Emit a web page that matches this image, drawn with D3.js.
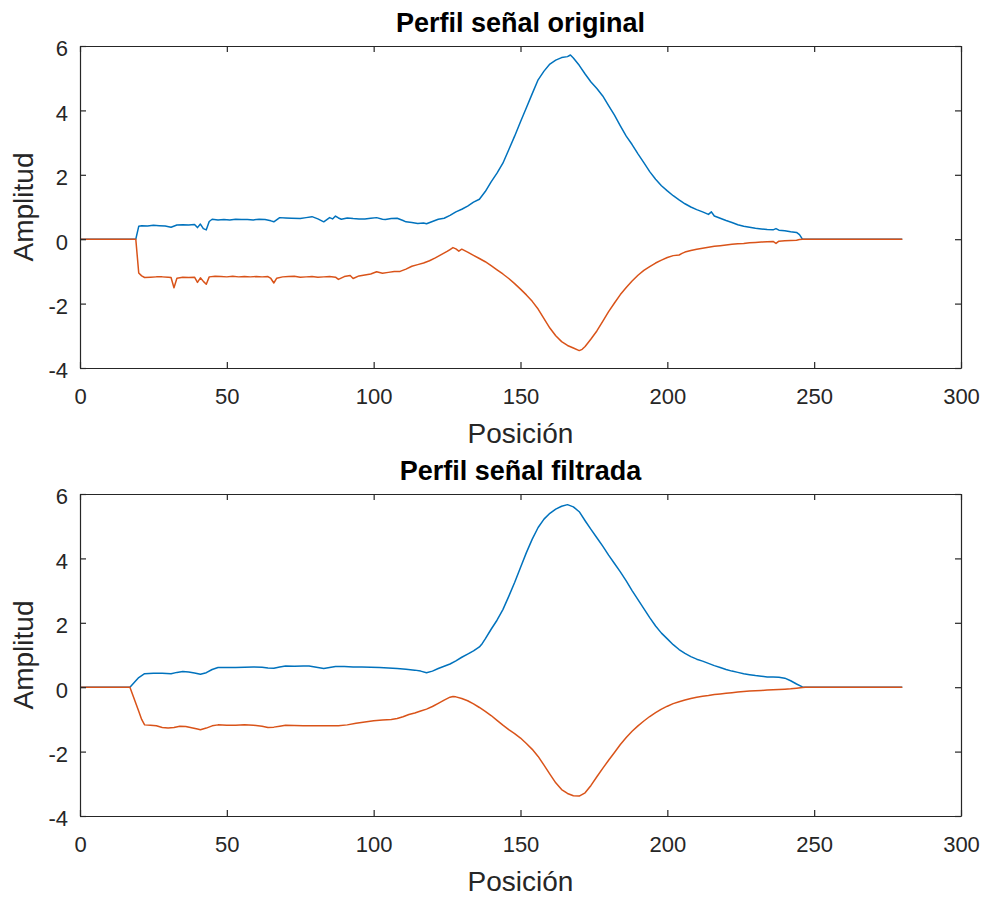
<!DOCTYPE html>
<html>
<head>
<meta charset="utf-8">
<script src="https://cdn.jsdelivr.net/npm/d3@7"></script>
<style>
  html, body { margin: 0; padding: 0; background: #ffffff; }
  svg { display: block; font-family: "Liberation Sans", Arial, Helvetica, sans-serif; }
  .axis path, .axis line { stroke: #262626; }
  .axis text { fill: #262626; }
</style>
</head>
<body>
<svg id="chart" width="983" height="897"></svg>
<script>
// Profile of the original (raw) signal
const originalBlueX = [0, 19, 20, 21, 23, 25, 27, 29, 31, 33, 35, 37, 39, 40, 41, 42, 43, 44, 45, 47, 49, 51, 53, 55, 57, 59, 61, 63, 65, 66, 68, 70, 72, 75, 77, 79, 81, 83, 85, 86, 87, 88, 89, 91, 93, 95, 97, 99, 101, 103, 104, 106, 108, 110, 111, 113, 115, 117, 118, 120, 122, 124, 126, 128, 130, 132, 134, 136, 138, 140, 142, 144, 146, 148, 150, 152, 154, 156, 158, 160, 162, 164, 166, 167, 168, 170, 172, 174, 176, 178, 180, 182, 184, 186, 188, 190, 192, 194, 196, 198, 200, 202, 204, 206, 208, 210, 212, 214, 215, 216, 218, 220, 222, 224, 226, 228, 230, 232, 234, 236, 237, 238, 240, 242, 244, 245, 246, 280];
const originalBlueY = [0, 0, 0.40, 0.42, 0.41, 0.43, 0.42, 0.41, 0.37, 0.44, 0.45, 0.44, 0.46, 0.36, 0.47, 0.33, 0.29, 0.55, 0.62, 0.60, 0.61, 0.60, 0.62, 0.61, 0.61, 0.60, 0.62, 0.61, 0.57, 0.54, 0.67, 0.66, 0.65, 0.64, 0.67, 0.70, 0.63, 0.54, 0.67, 0.63, 0.72, 0.66, 0.62, 0.66, 0.64, 0.63, 0.63, 0.65, 0.67, 0.62, 0.61, 0.64, 0.65, 0.58, 0.54, 0.52, 0.49, 0.50, 0.48, 0.55, 0.62, 0.65, 0.74, 0.85, 0.93, 1.03, 1.15, 1.24, 1.48, 1.78, 2.05, 2.36, 2.78, 3.20, 3.65, 4.08, 4.52, 4.95, 5.22, 5.44, 5.56, 5.64, 5.67, 5.72, 5.63, 5.40, 5.13, 4.88, 4.68, 4.45, 4.15, 3.85, 3.52, 3.20, 2.94, 2.65, 2.38, 2.10, 1.86, 1.66, 1.50, 1.35, 1.22, 1.10, 1.00, 0.92, 0.85, 0.77, 0.85, 0.72, 0.65, 0.58, 0.52, 0.45, 0.40, 0.37, 0.34, 0.32, 0.30, 0.29, 0.33, 0.28, 0.26, 0.23, 0.21, 0.14, 0, 0];

const originalRedX = [0, 19, 20, 21, 22, 24, 26, 28, 30, 31, 32, 33, 35, 37, 39, 40, 41, 42, 43, 44, 46, 48, 50, 52, 54, 56, 58, 60, 62, 64, 65, 66, 67, 69, 71, 73, 75, 77, 79, 81, 83, 85, 87, 88, 90, 92, 93, 95, 97, 99, 101, 103, 105, 107, 109, 111, 113, 115, 117, 119, 121, 123, 125, 126, 127, 128, 129, 130, 132, 134, 136, 138, 140, 142, 144, 146, 148, 150, 152, 154, 156, 158, 160, 162, 164, 166, 168, 170, 171, 172, 174, 176, 178, 180, 182, 184, 186, 188, 190, 192, 194, 196, 198, 200, 202, 204, 205, 206, 208, 210, 212, 214, 216, 218, 220, 222, 224, 226, 228, 230, 232, 234, 236, 237, 238, 240, 242, 244, 245, 246, 280];
const originalRedY = [0, 0, -1.05, -1.14, -1.19, -1.18, -1.17, -1.17, -1.18, -1.19, -1.51, -1.21, -1.18, -1.19, -1.18, -1.34, -1.20, -1.31, -1.40, -1.17, -1.15, -1.16, -1.17, -1.15, -1.17, -1.16, -1.17, -1.16, -1.17, -1.16, -1.22, -1.36, -1.21, -1.17, -1.16, -1.15, -1.18, -1.17, -1.16, -1.18, -1.17, -1.16, -1.18, -1.25, -1.16, -1.13, -1.22, -1.14, -1.11, -1.08, -1.01, -1.06, -1.03, -1.00, -1.00, -0.93, -0.84, -0.79, -0.74, -0.67, -0.58, -0.48, -0.38, -0.32, -0.26, -0.30, -0.37, -0.31, -0.40, -0.50, -0.60, -0.70, -0.82, -0.95, -1.08, -1.22, -1.38, -1.55, -1.73, -1.93, -2.17, -2.47, -2.76, -3.00, -3.18, -3.30, -3.38, -3.46, -3.42, -3.33, -3.10, -2.85, -2.55, -2.25, -1.98, -1.72, -1.50, -1.30, -1.12, -0.97, -0.85, -0.74, -0.65, -0.57, -0.51, -0.49, -0.44, -0.40, -0.35, -0.31, -0.28, -0.25, -0.22, -0.20, -0.18, -0.16, -0.14, -0.13, -0.11, -0.10, -0.09, -0.08, -0.07, -0.13, -0.06, -0.05, -0.04, -0.03, -0.01, 0, 0];

// Profile of the filtered signal
const filteredBlueX = [0, 17, 18, 20, 22, 25, 28, 31, 33, 35, 37, 39, 41, 43, 45, 47, 50, 53, 56, 59, 62, 64, 66, 68, 70, 73, 76, 78, 80, 83, 85, 87, 90, 93, 96, 99, 102, 105, 108, 111, 114, 116, 118, 120, 122, 124, 126, 128, 130, 132, 134, 136, 137, 138, 140, 142, 144, 146, 148, 150, 152, 154, 156, 158, 160, 162, 164, 166, 168, 170, 172, 174, 176, 178, 180, 182, 184, 186, 188, 190, 192, 194, 196, 198, 200, 202, 204, 206, 208, 210, 212, 214, 216, 218, 220, 222, 224, 226, 228, 230, 232, 234, 236, 238, 240, 242, 244, 246, 247, 280];
const filteredBlueY = [0, 0, 0.10, 0.30, 0.42, 0.43, 0.43, 0.42, 0.46, 0.49, 0.47, 0.44, 0.40, 0.45, 0.55, 0.61, 0.61, 0.61, 0.62, 0.63, 0.62, 0.60, 0.59, 0.63, 0.66, 0.65, 0.66, 0.66, 0.63, 0.58, 0.61, 0.64, 0.64, 0.63, 0.63, 0.62, 0.61, 0.60, 0.58, 0.56, 0.53, 0.50, 0.45, 0.50, 0.58, 0.65, 0.72, 0.82, 0.93, 1.03, 1.13, 1.25, 1.36, 1.50, 1.80, 2.08, 2.41, 2.82, 3.25, 3.72, 4.18, 4.60, 4.96, 5.22, 5.40, 5.53, 5.62, 5.67, 5.60, 5.45, 5.17, 4.90, 4.64, 4.38, 4.10, 3.84, 3.58, 3.30, 3.00, 2.72, 2.44, 2.16, 1.90, 1.68, 1.50, 1.32, 1.17, 1.05, 0.95, 0.87, 0.81, 0.74, 0.67, 0.61, 0.55, 0.50, 0.46, 0.42, 0.39, 0.36, 0.34, 0.32, 0.32, 0.31, 0.28, 0.20, 0.10, 0.01, 0, 0];

const filteredRedX = [0, 17, 18, 19, 20, 21, 22, 24, 26, 28, 30, 32, 34, 36, 38, 40, 41, 43, 45, 47, 50, 53, 56, 59, 62, 64, 66, 68, 70, 73, 76, 80, 84, 88, 91, 94, 97, 100, 103, 106, 108, 110, 112, 114, 116, 118, 120, 122, 124, 126, 127, 128, 130, 132, 134, 136, 138, 140, 142, 144, 146, 148, 150, 152, 154, 156, 158, 160, 162, 164, 166, 168, 170, 172, 174, 176, 178, 180, 182, 184, 186, 188, 190, 192, 194, 196, 198, 200, 202, 204, 206, 208, 210, 212, 214, 216, 218, 220, 222, 224, 226, 228, 230, 232, 234, 236, 238, 240, 242, 244, 246, 247, 280];
const filteredRedY = [0, 0, -0.25, -0.50, -0.75, -1.00, -1.17, -1.18, -1.20, -1.25, -1.27, -1.25, -1.21, -1.22, -1.26, -1.30, -1.32, -1.27, -1.20, -1.17, -1.18, -1.18, -1.17, -1.18, -1.21, -1.25, -1.24, -1.21, -1.18, -1.19, -1.20, -1.20, -1.20, -1.20, -1.17, -1.12, -1.08, -1.04, -1.02, -1.00, -0.97, -0.92, -0.85, -0.80, -0.74, -0.68, -0.60, -0.50, -0.40, -0.31, -0.29, -0.30, -0.35, -0.42, -0.52, -0.63, -0.75, -0.88, -1.03, -1.18, -1.32, -1.44, -1.58, -1.75, -1.93, -2.15, -2.42, -2.70, -2.97, -3.18, -3.30, -3.37, -3.38, -3.28, -3.05, -2.78, -2.52, -2.27, -2.03, -1.78, -1.56, -1.37, -1.20, -1.05, -0.91, -0.79, -0.68, -0.59, -0.51, -0.45, -0.40, -0.35, -0.31, -0.28, -0.26, -0.23, -0.21, -0.19, -0.17, -0.15, -0.13, -0.12, -0.11, -0.10, -0.09, -0.08, -0.07, -0.06, -0.05, -0.03, -0.01, 0, 0];

// Axis ticks and labels
const xTicks = [0, 50, 100, 150, 200, 250, 300];
const yTicks = [-4, -2, 0, 2, 4, 6];
const xDomain = [0, 300];
const yDomain = [-4, 6];
const titles = ["Perfil señal original", "Perfil señal filtrada"];
const xLabel = "Posición";
const yLabel = "Amplitud";

const BLUE = "#0072BD";
const ORANGE = "#D95319";

const zip = (xs, ys) => xs.map((x, i) => [x, ys[i]]);
const plainNumber = d => String(d);   // ASCII hyphen for negatives

const panels = [
  { top: 46, bottom: 368, title: titles[0],
    series: [zip(originalBlueX, originalBlueY), zip(originalRedX, originalRedY)] },
  { top: 494, bottom: 816, title: titles[1],
    series: [zip(filteredBlueX, filteredBlueY), zip(filteredRedX, filteredRedY)] }
];

const left = 80, right = 961;
const svg = d3.select("#chart");
svg.append("rect").attr("width", 983).attr("height", 897).attr("fill", "#fff");

panels.forEach(p => {
  const x = d3.scaleLinear().domain(xDomain).range([left, right]);
  const y = d3.scaleLinear().domain(yDomain).range([p.bottom, p.top]);
  const g = svg.append("g");

  // data lines (orange drawn last so it sits on top where both are zero)
  const line = d3.line().x(d => x(d[0])).y(d => y(d[1]));
  [BLUE, ORANGE].forEach((c, i) => {
    g.append("path").datum(p.series[i])
      .attr("fill", "none").attr("stroke", c)
      .attr("stroke-width", 1.5).attr("stroke-linejoin", "round")
      .attr("d", line);
  });

  // box axes with inward ticks
  const tk = 6;
  g.append("g").attr("class", "axis").attr("transform", `translate(0,${p.bottom})`)
    .call(d3.axisBottom(x).tickValues(xTicks).tickFormat(plainNumber)
      .tickSizeInner(-tk).tickSizeOuter(0).tickPadding(20))
    .call(a => a.selectAll("text").attr("font-size", 22));
  g.append("g").attr("class", "axis").attr("transform", `translate(0,${p.top})`)
    .call(d3.axisTop(x).tickValues(xTicks).tickSizeInner(-tk).tickSizeOuter(0).tickFormat(""));
  g.append("g").attr("class", "axis").attr("transform", `translate(${left},0)`)
    .call(d3.axisLeft(y).tickValues(yTicks).tickFormat(plainNumber)
      .tickSizeInner(-tk).tickSizeOuter(0).tickPadding(12))
    .call(a => a.selectAll("text").attr("font-size", 22).attr("dy", "0.45em"));
  g.append("g").attr("class", "axis").attr("transform", `translate(${right},0)`)
    .call(d3.axisRight(y).tickValues(yTicks).tickSizeInner(-tk).tickSizeOuter(0).tickFormat(""));
  g.selectAll(".axis path").attr("stroke-width", 1.2);
  g.selectAll(".axis line").attr("stroke-width", 1.2);
  g.selectAll(".axis text").attr("font-family", null);

  // title and axis labels
  g.append("text").attr("x", (left + right) / 2).attr("y", p.top - 14)
    .attr("text-anchor", "middle").attr("font-weight", "bold")
    .attr("font-size", 27).attr("fill", "#000").text(p.title);
  g.append("text").attr("x", (left + right) / 2).attr("y", p.bottom + 75)
    .attr("text-anchor", "middle").attr("font-size", 28).attr("fill", "#262626").text(xLabel);
  g.append("text").attr("transform", `translate(33,${(p.top + p.bottom) / 2}) rotate(-90)`)
    .attr("text-anchor", "middle").attr("font-size", 28).attr("fill", "#262626").text(yLabel);
});
</script>
</body>
</html>
